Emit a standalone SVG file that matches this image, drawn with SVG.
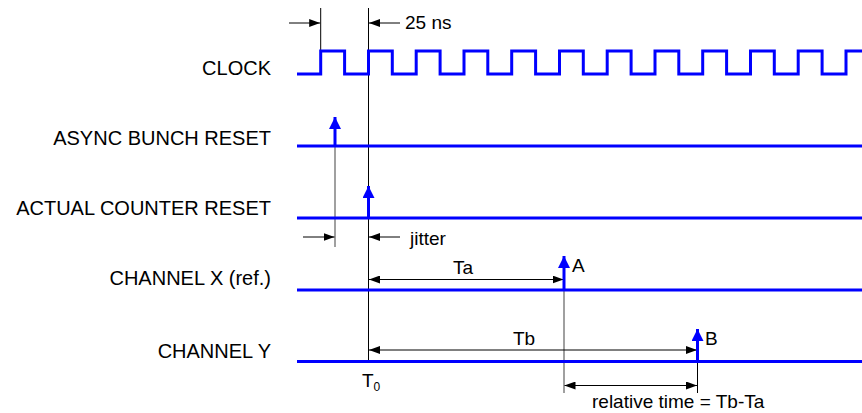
<svg xmlns="http://www.w3.org/2000/svg" width="862" height="413" viewBox="0 0 862 413">
<defs>
<marker id="ah" viewBox="0 0 11 8" refX="11" refY="4" markerWidth="11" markerHeight="8" markerUnits="userSpaceOnUse" orient="auto-start-reverse"><path d="M0,0 L11,4 L0,8 Z" fill="#000"/></marker>
<marker id="bh" viewBox="0 0 12 12" refX="12" refY="6" markerWidth="12" markerHeight="12" markerUnits="userSpaceOnUse" orient="auto"><path d="M0,0 L12,6 L0,12 Z" fill="#0000ff"/></marker>
</defs>
<style>
text{font-family:"Liberation Sans",Arial,sans-serif;font-size:19px;fill:#000}
.lbl{text-anchor:end;font-size:20px}
.sig{fill:none;stroke:#0000ff;stroke-width:3}
.pulse{stroke:#0000ff;stroke-width:3;fill:none}
.blk{stroke:#000;stroke-width:1;fill:none}
.gry{stroke:#808080;stroke-width:1.5;fill:none}
.dim{stroke:#000;stroke-width:1;fill:none;marker-end:url(#ah)}
.dim2{stroke:#000;stroke-width:1;fill:none;marker-start:url(#ah);marker-end:url(#ah)}
</style>
<g id="connectors">
<line class="blk" x1="320.7" y1="8" x2="320.7" y2="51"/>
<line class="blk" x1="368.5" y1="8" x2="368.5" y2="361"/>
<line class="dim" x1="289" y1="23" x2="320.2" y2="23"/>
<line class="dim" x1="400" y1="23" x2="369" y2="23"/>
<text x="405" y="29">25 ns</text>
<line class="gry" x1="335" y1="147" x2="335" y2="247"/>
<line class="dim" x1="303" y1="237" x2="334.5" y2="237"/>
<line class="dim" x1="400" y1="237" x2="369" y2="237"/>
<text x="410" y="245">jitter</text>
<line class="dim2" x1="369" y1="279.5" x2="563.5" y2="279.5"/>
<text x="463" y="274" text-anchor="middle">Ta</text>
<line class="gry" x1="564" y1="291" x2="564" y2="393"/>
<line class="dim2" x1="369" y1="350" x2="697" y2="350"/>
<text x="524" y="345" text-anchor="middle">Tb</text>
<line class="blk" x1="697.5" y1="362" x2="697.5" y2="393"/>
<line class="dim2" x1="564.5" y1="385.5" x2="697" y2="385.5"/>
<text x="362" y="387">T<tspan font-size="12" dy="4">0</tspan></text>
<text x="592" y="408">relative time = Tb-Ta</text>
</g>
<g id="clock">
<text class="lbl" x="271" y="75">CLOCK</text>
<path class="sig" d="M297,74 H320.7 V51 H344.6 V74 H368.5 V51 H392.3 V74 H416.2 V51 H440.1 V74 H464 V51 H487.8 V74 H511.7 V51 H535.6 V74 H559.5 V51 H583.3 V74 H607.2 V51 H631.1 V74 H655 V51 H678.8 V74 H702.7 V51 H726.6 V74 H750.5 V51 H774.3 V74 H798.2 V51 H822.1 V74 H846 V51 H862"/>
</g>
<g id="async-bunch-reset">
<text class="lbl" x="271" y="145">ASYNC BUNCH RESET</text>
<line class="sig" x1="297" y1="146" x2="862" y2="146"/>
<line class="pulse" x1="335" y1="146" x2="335" y2="117" marker-end="url(#bh)"/>
</g>
<g id="actual-counter-reset">
<text class="lbl" x="271" y="215">ACTUAL COUNTER RESET</text>
<line class="sig" x1="297" y1="218" x2="862" y2="218"/>
<line class="pulse" x1="368.5" y1="218" x2="368.5" y2="186" marker-end="url(#bh)"/>
</g>
<g id="channel-x">
<text class="lbl" x="271" y="285">CHANNEL X (ref.)</text>
<line class="sig" x1="297" y1="290" x2="862" y2="290"/>
<line class="pulse" x1="564" y1="290" x2="564" y2="256" marker-end="url(#bh)"/>
<text x="572" y="272">A</text>
</g>
<g id="channel-y">
<text class="lbl" x="271" y="358">CHANNEL Y</text>
<line class="sig" x1="297" y1="361.5" x2="862" y2="361.5"/>
<line class="pulse" x1="697.5" y1="361.5" x2="697.5" y2="329" marker-end="url(#bh)"/>
<text x="705" y="345">B</text>
</g>
</svg>
